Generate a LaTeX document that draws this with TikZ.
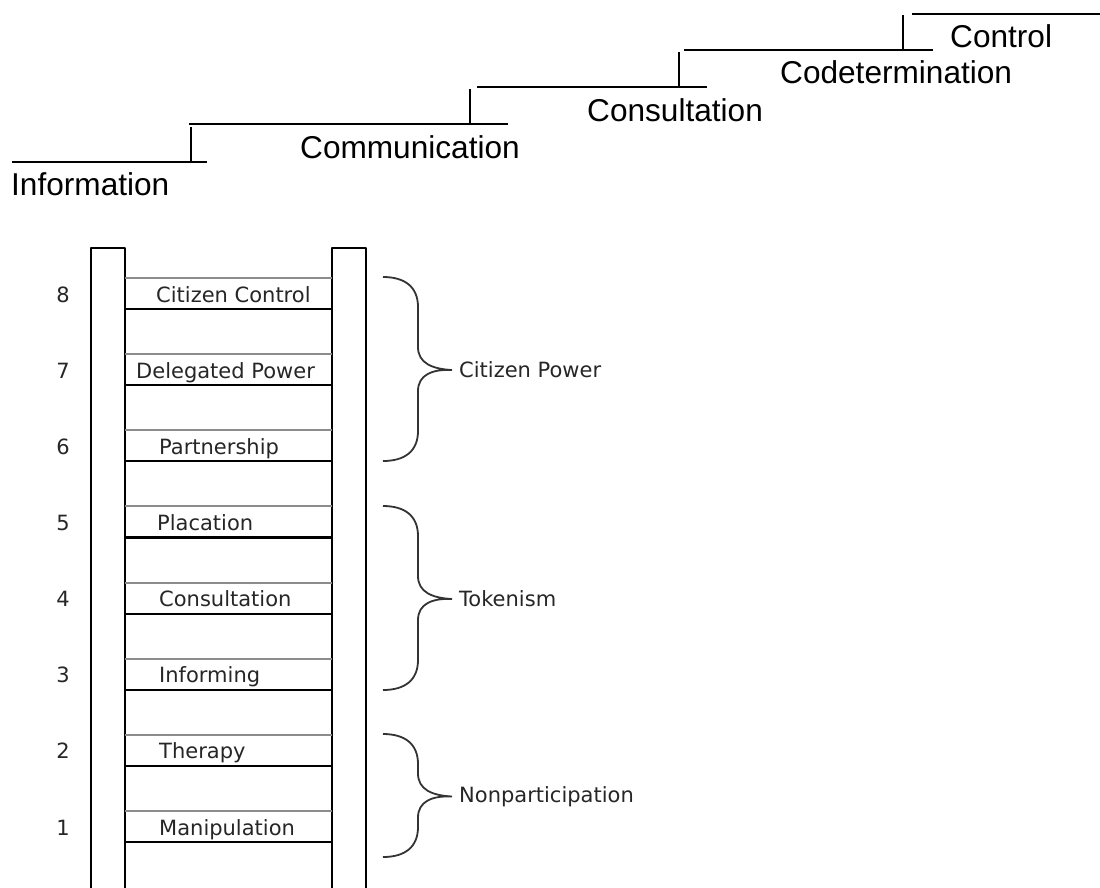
\documentclass[tikz,border=0pt]{standalone}
\usepackage{fontspec}
\setmainfont{DejaVu Sans}
\newfontfamily\arialfont{Liberation Sans}

\begin{document}
\begin{tikzpicture}[
        x=1pt, y=-1pt, % one unit per pixel, y grows downwards
        stair/.style = {line width=1.9pt},
        rail/.style = {line width=2pt, line join=round},
        rungtop/.style = {line width=2pt, draw=black!45},
        rungbot/.style = {line width=2.2pt},
        bracket/.style = {line width=1.8pt, draw=black!80},
        toplab/.style = {font=\arialfont\fontsize{31.6}{38}\selectfont, inner sep=0pt, anchor=base west},
        lvl/.style = {font=\fontsize{21}{25}\selectfont, text=black!85, inner sep=0pt, anchor=base west},
        num/.style = {font=\fontsize{21}{25}\selectfont, text=black!85, inner sep=0pt, anchor=base},
        grp/.style = {font=\fontsize{21}{25}\selectfont, text=black!85, inner sep=7pt, anchor=west},
    ]
    \useasboundingbox (0,0) rectangle (1100,887);

    % staircase at the top
    \foreach \xa/\xb/\yl/\xs in {12/207/162/191, 189/508/124/470, 477/707/87/679, 684/933/50/903}
        \draw[stair] (\xa,\yl) -- (\xb,\yl) (\xs,\yl-35) -- (\xs,\yl+1);
    \draw[stair] (912,14) -- (1100,14);

    \node[toplab] (info) at (11,195) {Information};
    \node[toplab] (comm) at (300,158) {Communication};
    \node[toplab] (consult) at (587,121) {Consultation};
    \node[toplab] (codet) at (780,83) {Codetermination};
    \node[toplab] (ctrl) at (950,47) {Control};

    % ladder rails
    \draw[rail] (91,890) -- (91,248) -- (125,248) -- (125,890);
    \draw[rail] (332,890) -- (332,248) -- (366,248) -- (366,890);

    % rungs with their labels
    \foreach \n/\lab/\xt in {8/Citizen Control/156, 7/Delegated Power/136, 6/Partnership/159,
            5/Placation/157, 4/Consultation/159, 3/Informing/159, 2/Therapy/159, 1/Manipulation/159} {
        \pgfmathsetmacro\yg{278+(8-\n)*76.15}
        \draw[rungtop] (125,\yg) -- (332,\yg);
        \draw[rungbot] (125,\yg+31) -- (332,\yg+31);
        \node[num] (n\n) at (63,\yg+24) {\n};
        \node[lvl] (r\n) at (\xt,\yg+24) {\lab};
    }

    % braces
    \foreach \ya/\yb/\nm/\lab in {277/461/power/Citizen Power, 506/690/token/Tokenism, 734/857/nonpart/Nonparticipation} {
        \pgfmathsetmacro\ym{(\ya+\yb)/2}
        \node[grp] (\nm) at (452,\ym+1) {\lab};
        \draw[bracket] (383,\ya) .. controls (405,\ya) and (418,\ya+10) .. (418,\ya+30)
            -- (418,\ym-22) .. controls (418,\ym-6) and (432,\ym) .. (\nm.west)
            .. controls (432,\ym) and (418,\ym+6) .. (418,\ym+22)
            -- (418,\yb-30) .. controls (418,\yb-10) and (405,\yb) .. (383,\yb);
    }

\end{tikzpicture}
\end{document}
